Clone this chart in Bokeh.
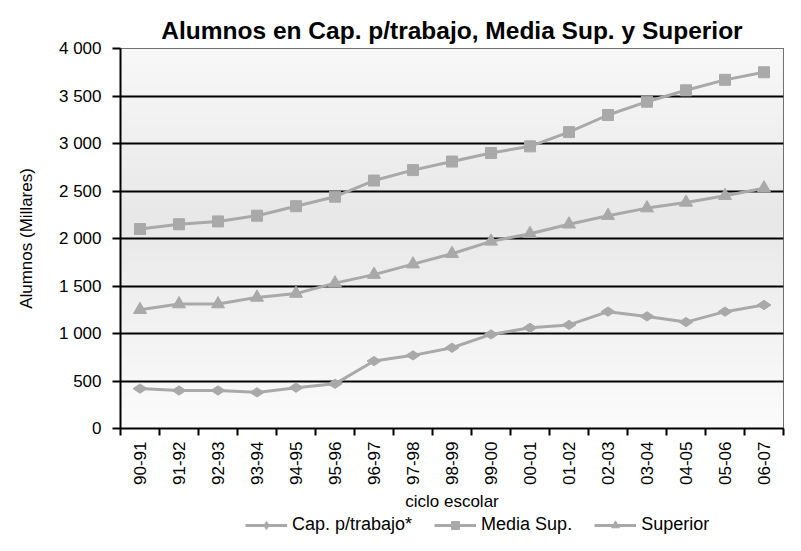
import numpy as np
from bokeh.plotting import figure
from bokeh.layouts import column
from bokeh.models import FixedTicker, CustomJSTickFormatter, Legend, LegendItem
from bokeh.embed import file_html
from bokeh.resources import INLINE

ciclos = ["90-91", "91-92", "92-93", "93-94", "94-95", "95-96", "96-97", "97-98", "98-99",
          "99-00", "00-01", "01-02", "02-03", "03-04", "04-05", "05-06", "06-07"]
cap_trabajo = [420, 400, 400, 380, 430, 470, 710, 770, 850, 990, 1060, 1090, 1230, 1180, 1120, 1230, 1300]
media_sup = [2100, 2150, 2180, 2240, 2340, 2440, 2610, 2720, 2810, 2900, 2970, 3120, 3300, 3440, 3560, 3670, 3750]
superior = [1250, 1310, 1310, 1380, 1420, 1530, 1620, 1730, 1840, 1970, 2050, 2150, 2240, 2320, 2380, 2450, 2530]
y_ticks = [0, 500, 1000, 1500, 2000, 2500, 3000, 3500, 4000]

FONT = "Liberation Sans"
GRAY = "#a9a9a9"
n = len(ciclos)
xs = [i + 0.5 for i in range(n)]
ymax = y_ticks[-1]

p = figure(width=785, height=514, x_range=(0, n), y_range=(0, ymax),
           output_backend="svg", toolbar_location=None,
           min_border_left=120, min_border_right=2, min_border_top=48, min_border_bottom=86,
           title="Alumnos en Cap. p/trabajo, Media Sup. y Superior")
p.background_fill_color = "white"
p.border_fill_color = "white"
p.outline_line_color = "#444444"
p.outline_line_width = 1

p.title.text_font = FONT
p.title.text_font_size = "24.5px"
p.title.text_font_style = "bold"
p.title.text_color = "black"
p.title.align = "center"
p.title.vertical_align = "middle"
p.title.standoff = 8

# gradient background of plot area
rows = 200
f = np.linspace(0, 1, rows)
g = (252 - 20 * (1 - np.abs(f - 0.55) / 0.55).clip(0, 1)).astype(np.uint32)
img = np.empty((rows, 1), dtype=np.uint32)
view = img.view(dtype=np.uint8).reshape((rows, 1, 4))
view[:, 0, 0] = g
view[:, 0, 1] = g
view[:, 0, 2] = g
view[:, 0, 3] = 255
p.image_rgba(image=[img], x=0, y=0, dw=n, dh=ymax, level="image")

# legend strip (separate small figure below the chart; its ranges keep the
# duplicated series out of view so only the legend shows)
lg = figure(width=785, height=21, x_range=(-2 * n, -n), y_range=(-2 * ymax, -ymax),
            output_backend="svg", toolbar_location=None,
            min_border_left=0, min_border_right=0, min_border_top=0, min_border_bottom=0)
lg.axis.visible = False
lg.grid.visible = False
lg.outline_line_color = None
lg.background_fill_color = "white"
lg.border_fill_color = "white"

# series
series = [("Cap. p/trabajo*", cap_trabajo, "diamond", 14, np.pi / 2),
          ("Media Sup.", media_sup, "square", 11, 0),
          ("Superior", superior, "triangle", 13, 0)]
items = []
for name, vals, marker, size, ang in series:
    p.line(xs, vals, line_color=GRAY, line_width=3)
    p.scatter(xs, vals, marker=marker, size=size, angle=ang,
              fill_color=GRAY, line_color=GRAY)
    l2 = lg.line(xs, vals, line_color=GRAY, line_width=3)
    s2 = lg.scatter(xs, vals, marker=marker, size=size, angle=ang,
                    fill_color=GRAY, line_color=GRAY)
    items.append(LegendItem(label=name, renderers=[l2, s2]))

# grid
p.xgrid.visible = False
p.ygrid.ticker = FixedTicker(ticks=y_ticks)
p.ygrid.grid_line_color = "black"
p.ygrid.grid_line_width = 2

# y axis
p.yaxis.ticker = FixedTicker(ticks=y_ticks)
p.yaxis.formatter = CustomJSTickFormatter(code="""
    if (tick >= 1000) {
        const r = String(tick % 1000).padStart(3, '0');
        return Math.floor(tick / 1000) + ' ' + r;
    }
    return String(tick);
""")
p.yaxis.axis_label = "Alumnos (Millares)"
p.yaxis.axis_label_text_font = FONT
p.yaxis.axis_label_text_font_size = "17px"
p.yaxis.axis_label_text_font_style = "normal"
p.yaxis.axis_label_text_color = "black"
p.yaxis.axis_label_standoff = 20
p.yaxis.major_label_text_font = FONT
p.yaxis.major_label_text_font_size = "17px"
p.yaxis.major_label_text_color = "black"
p.yaxis.major_label_standoff = 11
p.yaxis.axis_line_color = "black"
p.yaxis.axis_line_width = 2
p.yaxis.major_tick_line_color = "black"
p.yaxis.major_tick_line_width = 2
p.yaxis.major_tick_out = 8
p.yaxis.major_tick_in = 0
p.yaxis.minor_tick_line_color = None

# x axis
p.xaxis.ticker = FixedTicker(ticks=xs, minor_ticks=list(range(n + 1)))
p.xaxis.formatter = CustomJSTickFormatter(args=dict(cats=ciclos),
                                          code="return cats[Math.floor(tick)];")
p.xaxis.major_label_orientation = np.pi / 2
p.xaxis.major_label_text_font = FONT
p.xaxis.major_label_text_font_size = "17px"
p.xaxis.major_label_text_color = "black"
p.xaxis.major_label_standoff = 6
p.xaxis.axis_label = "ciclo escolar"
p.xaxis.axis_label_text_font = FONT
p.xaxis.axis_label_text_font_size = "17px"
p.xaxis.axis_label_text_font_style = "normal"
p.xaxis.axis_label_text_color = "black"
p.xaxis.axis_label_standoff = 4
p.xaxis.axis_line_color = "black"
p.xaxis.axis_line_width = 2
p.xaxis.major_tick_line_color = None
p.xaxis.minor_tick_line_color = "black"
p.xaxis.minor_tick_line_width = 2
p.xaxis.minor_tick_out = 7
p.xaxis.minor_tick_in = 0

legend = Legend(items=items, orientation="horizontal", location=(125, 0),
                label_text_font=FONT, label_text_font_size="18px", label_text_color="black",
                glyph_width=42, glyph_height=20, spacing=22, padding=0, margin=0,
                label_standoff=5, label_height=20, border_line_color=None,
                background_fill_alpha=0)
lg.add_layout(legend, "center")

layout = column(p, lg, spacing=0)
open("out.html", "w").write(file_html(layout, INLINE))
